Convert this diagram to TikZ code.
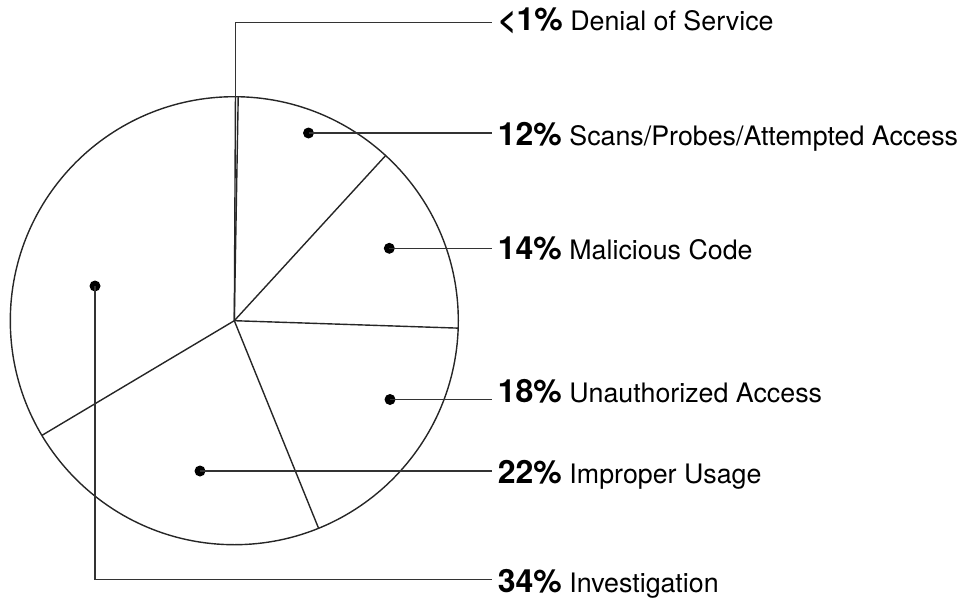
\documentclass[tikz,border=0pt]{standalone}
\usepackage{fontspec}
\setmainfont{TeX Gyre Heros}
\usetikzlibrary{calc}
\tikzset{
  pieline/.style={line width=1.4pt, draw=black!85},
  leader/.style={line width=1.4pt, draw=black!80},
  dotmark/.style={circle, fill=black, inner sep=0pt, minimum size=11pt},
  lab/.style={anchor=base west, inner xsep=6pt, inner ysep=0pt, font=\fontsize{26.8}{30}\selectfont},
}
\newcommand{\pct}[1]{{\fontsize{32}{36}\selectfont\bfseries #1}}
\begin{document}
\begin{tikzpicture}[x=1pt, y=-1pt]
\useasboundingbox (0,0) rectangle (976,599);
\coordinate (c) at (234.3,320.7);
\def\R{224}
% pie
\draw[pieline] (c) circle (\R);
\foreach \a/\n in {89.7/pA, 89.0/pB, 47.5/pC, -1.9/pD, -67.9/pE, 210.8/pF}{
  \coordinate (\n) at ($(c)+({\R*cos(\a)},{-\R*sin(\a)})$);
  \draw[pieline] (c) -- (\n);
}
% labels
\node[lab] (l0) at (491.7,30.5) {\pct{<1\%}\ Denial of Service};
\node[lab] (l1) at (491.7,145.5) {\pct{12\%}\ Scans/Probes/Attempted Access};
\node[lab] (l2) at (491.7,259) {\pct{14\%}\ Malicious Code};
\node[lab] (l3) at (491.7,402) {\pct{18\%}\ Unauthorized Access};
\node[lab] (l4) at (491.7,483.8) {\pct{22\%}\ Improper Usage};
\node[lab] (l5) at (491.7,592) {\pct{34\%}\ Investigation};
% dots
\node[dotmark] (d1) at (308.5,133) {};
\node[dotmark] (d2) at (389.3,248.3) {};
\node[dotmark] (d3) at (390,399.5) {};
\node[dotmark] (d4) at (200,471) {};
\node[dotmark] (d5) at (95,286) {};
% leaders
\coordinate (k0) at (236,22.7);
\draw[leader] (pA) -- (pA |- k0) -- (l0.west |- k0);
\draw[leader] (d1.center) -- (d1 -| l1.west);
\draw[leader] (d2.center) -- (d2 -| l2.west);
\draw[leader] (d3.center) -- (d3 -| l3.west);
\draw[leader] (d4.center) -- (d4 -| l4.west);
\coordinate (k5) at (95,579.3);
\draw[leader] (d5.center) -- (k5) -- (k5 -| l5.west);
\end{tikzpicture}
\end{document}
